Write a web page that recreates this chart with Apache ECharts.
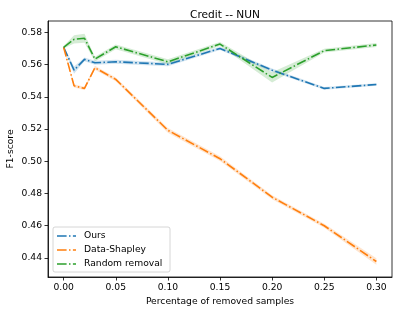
<!DOCTYPE html>
<html><head><meta charset="utf-8">
<script src="https://cdn.jsdelivr.net/npm/echarts@6/dist/echarts.min.js"></script>
<style>html,body{margin:0;padding:0;background:#fff}#c{width:399px;height:314px}</style>
</head><body><div id="c"></div>
<script>
const xValues = [0, 0.01, 0.02, 0.03, 0.05, 0.10, 0.15, 0.20, 0.25, 0.30];
const oursMean = [0.5707, 0.5565, 0.5632, 0.5611, 0.5617, 0.5601, 0.5700, 0.5565, 0.5452, 0.5476];
const oursHalf = [0.0008, 0.0022, 0.0012, 0.0012, 0.0012, 0.0012, 0.0010, 0.0010, 0.0008, 0.0008];
const shapMean = [0.5707, 0.5468, 0.5452, 0.5580, 0.5508, 0.5192, 0.5016, 0.4777, 0.4600, 0.4378];
const shapHalf = [0.0008, 0.0010, 0.0010, 0.0012, 0.0012, 0.0015, 0.0015, 0.0012, 0.0012, 0.0020];
const randMean = [0.5707, 0.5756, 0.5763, 0.5634, 0.5710, 0.5617, 0.5727, 0.5520, 0.5686, 0.5721];
const randHalf = [0.0008, 0.0025, 0.0028, 0.0015, 0.0015, 0.0015, 0.0012, 0.0032, 0.0012, 0.0012];
const xTicks = [0, 0.05, 0.10, 0.15, 0.20, 0.25, 0.30];
const yTicks = [0.44, 0.46, 0.48, 0.50, 0.52, 0.54, 0.56, 0.58];
const names = ['Ours', 'Data-Shapley', 'Random removal'];
const colors = ['#1f77b4', '#ff7f0e', '#2ca02c'];
const dashDot = [9.6, 2.4, 1.5, 2.4];
const FONT = 'DejaVu Sans';
const FS = 9.2;

const means = [oursMean, shapMean, randMean];
const halves = [oursHalf, shapHalf, randHalf];
const series = [];
means.forEach((m, i) => {
  const h = halves[i];
  const bandData = xValues.map((x, k) => [x, m[k] - h[k], m[k] + h[k]]);
  series.push({
    type: 'custom', silent: true, z: 1,
    data: bandData,
    encode: { x: 0, y: [1, 2] },
    renderItem: function (params, api) {
      if (params.dataIndex !== 0) return null;
      const upper = [], lower = [];
      for (let k = 0; k < bandData.length; k++) {
        upper.push(api.coord([bandData[k][0], bandData[k][2]]));
        lower.unshift(api.coord([bandData[k][0], bandData[k][1]]));
      }
      return { type: 'polygon', shape: { points: upper.concat(lower) },
        style: { fill: colors[i], opacity: 0.2 } };
    }
  });
});
means.forEach((m, i) => {
  series.push({
    name: names[i], type: 'line', symbol: 'none', z: 3,
    data: xValues.map((x, k) => [x, m[k]]),
    lineStyle: { color: colors[i], width: 1.6, type: dashDot }
  });
});

const chart = echarts.init(document.getElementById('c'));
const legendX = 53, legendY = 227;
const legendItems = [
  { type: 'rect', shape: { x: legendX, y: legendY, width: 117, height: 45, r: 2 },
    style: { fill: 'rgba(255,255,255,0.8)', stroke: '#ccc', lineWidth: 0.8 }, z: 10 }
];
names.forEach((n, i) => {
  const y = 236 + i * 14;
  legendItems.push({ type: 'line', shape: { x1: 57, y1: y, x2: 76, y2: y }, z: 11,
    style: { stroke: colors[i], lineWidth: 1.6, lineDash: dashDot } });
  legendItems.push({ type: 'text', z: 11, style: { text: n, x: 84, y: y, fill: '#000',
    font: FS + 'px "' + FONT + '"', textVerticalAlign: 'middle' } });
});
chart.setOption({
  animation: false,
  title: { text: 'Credit -- NUN', left: 220, top: 5, textAlign: 'center',
    textStyle: { fontFamily: FONT, fontSize: 10.6, fontWeight: 'normal', color: '#000' } },
  grid: { left: 48, right: 7, top: 21, bottom: 37, containLabel: false, outerBoundsMode: 'none',
    show: true, borderColor: '#000', borderWidth: 0.8 },
  xAxis: {
    type: 'value', min: -0.015, max: 0.315,
    name: 'Percentage of removed samples', nameLocation: 'middle', nameGap: 20, nameMoveOverlap: false,
    nameTextStyle: { fontFamily: FONT, fontSize: FS, color: '#000' },
    axisLine: { show: true, onZero: false, lineStyle: { color: '#000', width: 0.8 } },
    axisTick: { show: true, customValues: xTicks, length: 3.5, inside: false, lineStyle: { color: '#000', width: 0.8 } },
    axisLabel: { customValues: xTicks, formatter: v => v.toFixed(2), fontFamily: FONT, fontSize: FS, color: '#000', margin: 6 },
    splitLine: { show: false }
  },
  yAxis: {
    type: 'value', min: 0.4282, max: 0.587,
    name: 'F1-score', nameLocation: 'middle', nameGap: 33, nameMoveOverlap: false,
    nameTextStyle: { fontFamily: FONT, fontSize: FS, color: '#000' },
    axisLine: { show: true, onZero: false, lineStyle: { color: '#000', width: 0.8 } },
    axisTick: { show: true, customValues: yTicks, length: 3.5, inside: false, lineStyle: { color: '#000', width: 0.8 } },
    axisLabel: { customValues: yTicks, formatter: v => v.toFixed(2), fontFamily: FONT, fontSize: FS, color: '#000', margin: 6 },
    splitLine: { show: false }
  },
  graphic: legendItems,
  series: series
});
</script></body></html>
